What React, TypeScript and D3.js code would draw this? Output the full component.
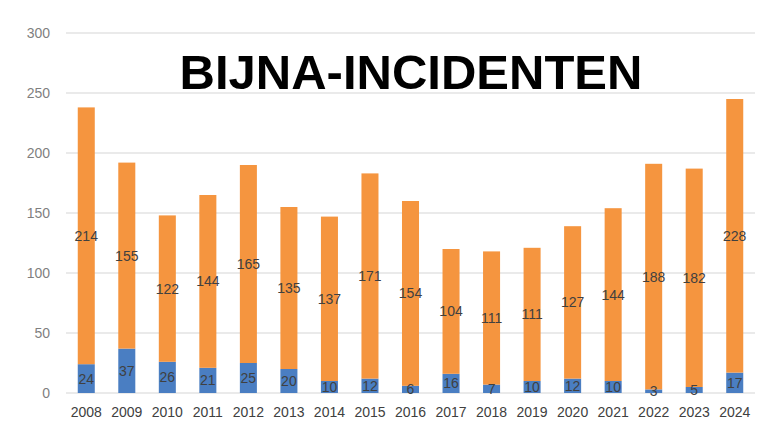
import React from 'react';
import * as d3 from 'd3';

const years = ['2008', '2009', '2010', '2011', '2012', '2013', '2014', '2015', '2016', '2017', '2018', '2019', '2020', '2021', '2022', '2023', '2024'];
const blueValues = [24, 37, 26, 21, 25, 20, 10, 12, 6, 16, 7, 10, 12, 10, 3, 5, 17];
const orangeValues = [214, 155, 122, 144, 165, 135, 137, 171, 154, 104, 111, 111, 127, 144, 188, 182, 228];
const yTicks = [0, 50, 100, 150, 200, 250, 300];

const W = 765;
const H = 423;

const App = () => {
  const margin = { top: 33, right: 10, bottom: 30, left: 66 };

  const x = d3.scaleBand()
    .domain(years)
    .range([margin.left, W - margin.right])
    .paddingInner(0.58)
    .paddingOuter(0.29);

  const y = d3.scaleLinear()
    .domain([0, 300])
    .range([H - margin.bottom, margin.top]);

  const font = '"Liberation Sans", Arial, sans-serif';

  return (
    <svg width={W} height={H} style={{ position: 'absolute', left: 0, top: 0, background: '#fff' }}>
      {/* gridlines */}
      {yTicks.map(t => (
        <g key={t}>
          <line x1={margin.left} x2={W - margin.right} y1={y(t)} y2={y(t)} stroke="#e3e3e3" strokeWidth={1.5} />
          <text x={50} y={y(t)} dy="0.35em" textAnchor="end" fontFamily={font} fontSize={14} fill="#7f7f7f">{t}</text>
        </g>
      ))}

      {/* bars */}
      {years.map((yr, i) => {
        const b = blueValues[i];
        const o = orangeValues[i];
        const bx = x(yr)!;
        const bw = x.bandwidth();
        const cx = bx + bw / 2;
        return (
          <g key={yr}>
            <rect x={bx} width={bw} y={y(b)} height={y(0) - y(b)} fill="#4a7ec2" />
            <rect x={bx} width={bw} y={y(b + o)} height={y(b) - y(b + o)} fill="#f5953f" />
            <text x={cx} y={y(b / 2)} dy="0.35em" textAnchor="middle" fontFamily={font} fontSize={14} fill="#404040">{b}</text>
            <text x={cx} y={y(b + o / 2)} dy="0.35em" textAnchor="middle" fontFamily={font} fontSize={14} fill="#404040">{o}</text>
            <text x={cx} y={417} textAnchor="middle" fontFamily={font} fontSize={14} fill="#404040">{yr}</text>
          </g>
        );
      })}

      <text x={411} y={89} textAnchor="middle" fontFamily={font} fontWeight="bold" fontSize={49} fill="#000">BIJNA-INCIDENTEN</text>
    </svg>
  );
};

export default App;
